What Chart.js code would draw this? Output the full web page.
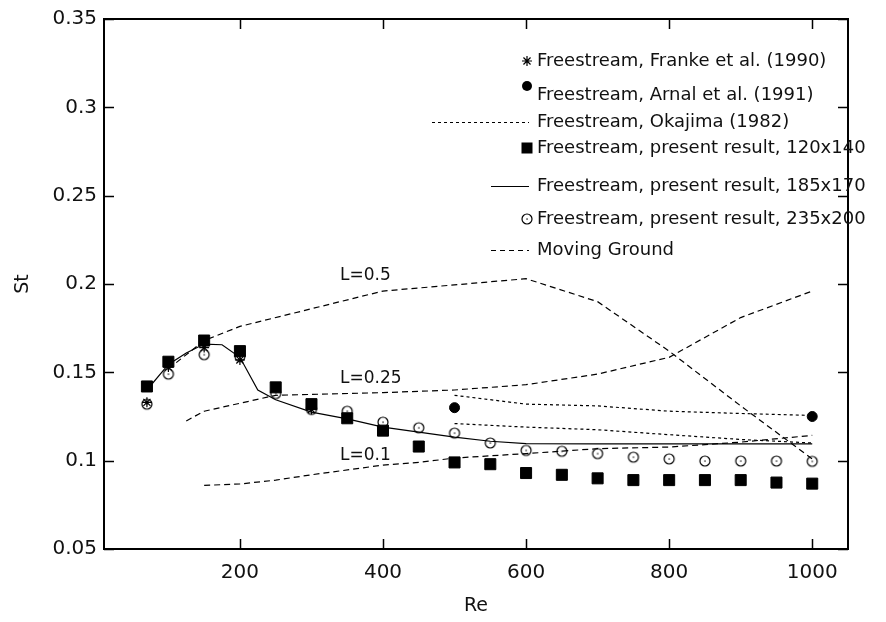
<!DOCTYPE html>
<html>
<head>
<meta charset="utf-8">
<script src="https://cdn.jsdelivr.net/npm/chart.js@4.4.0/dist/chart.umd.min.js"></script>
<style>
  html, body { margin: 0; padding: 0; background: #fff; }
  #wrap { width: 886px; height: 622px; }
</style>
</head>
<body>
<div id="wrap"><canvas id="c" width="886" height="622"></canvas></div>
<script>
// ---------------- data ----------------
const xTickValues = [200, 400, 600, 800, 1000];
const yTickValues = [0.05, 0.1, 0.15, 0.2, 0.25, 0.3, 0.35];
const yTickLabels = ['0.05', '0.1', '0.15', '0.2', '0.25', '0.3', '0.35'];

const reFranke = [70, 100, 150, 200, 300];
const stFranke = [0.133, 0.153, 0.164, 0.157, 0.129];

const reArnal = [500, 1000];
const stArnal = [0.130, 0.125];

const reOkajima = [500, 600, 700, 800, 900, 1000];
const stOkajimaUpper = [0.137, 0.132, 0.131, 0.128, 0.1267, 0.1256];
const stOkajimaLower = [0.121, 0.119, 0.1175, 0.1147, 0.112, 0.110];

const rePresent = [70, 100, 150, 200, 250, 300, 350, 400, 450, 500, 550, 600, 650, 700, 750, 800, 850, 900, 950, 1000];
const st120x140 = [0.142, 0.156, 0.168, 0.162, 0.1415, 0.132, 0.124, 0.117, 0.108, 0.099, 0.098, 0.093, 0.092, 0.090, 0.089, 0.089, 0.089, 0.089, 0.0876, 0.087];
const st235x200 = [0.132, 0.149, 0.160, 0.159, 0.138, 0.129, 0.128, 0.1218, 0.1186, 0.1156, 0.110, 0.1058, 0.1053, 0.104, 0.102, 0.101, 0.0998, 0.0998, 0.0998, 0.0996];

const re185x170 = [70, 100, 125, 150, 175, 200, 225, 250, 300, 350, 400, 450, 500, 550, 600, 700, 800, 900, 1000];
const st185x170 = [0.140, 0.1545, 0.161, 0.166, 0.1656, 0.1585, 0.140, 0.1345, 0.1275, 0.1237, 0.119, 0.1162, 0.1133, 0.111, 0.1096, 0.1095, 0.1095, 0.1095, 0.1095];

const reL05 = [100, 150, 200, 300, 400, 600, 700, 800, 900, 1000];
const stL05 = [0.152, 0.168, 0.176, 0.186, 0.196, 0.203, 0.190, 0.162, 0.131, 0.101];

const reL025 = [125, 150, 250, 300, 400, 500, 600, 700, 800, 900, 1000];
const stL025 = [0.1225, 0.128, 0.137, 0.1375, 0.1385, 0.140, 0.143, 0.149, 0.1585, 0.181, 0.196];

const reL01 = [150, 200, 250, 300, 400, 450, 500, 600, 700, 800, 900, 1000];
const stL01 = [0.086, 0.0868, 0.089, 0.092, 0.0975, 0.099, 0.1015, 0.104, 0.1068, 0.1077, 0.1105, 0.1143];

const legendLabels = [
  'Freestream, Franke et al. (1990)',
  'Freestream, Arnal et al. (1991)',
  'Freestream, Okajima (1982)',
  'Freestream, present result, 120x140',
  'Freestream, present result, 185x170',
  'Freestream, present result, 235x200',
  'Moving Ground'
];

const curveLabels = ['L=0.5', 'L=0.25', 'L=0.1'];
const curveLabelRe = [340, 340, 340];
const curveLabelSt = [0.2048, 0.1467, 0.1030];

const xTitle = 'Re';
const yTitle = 'St';

// ---------------- helpers ----------------
function pts(xs, ys) { return xs.map((x, i) => ({ x: x, y: ys[i] })); }

const FONT = '"DejaVu Sans", "Liberation Sans", sans-serif';

// circle with a dot marker
const dotCircle = document.createElement('canvas');
dotCircle.width = 14; dotCircle.height = 14;
(function () {
  const g = dotCircle.getContext('2d');
  g.strokeStyle = '#000'; g.lineWidth = 1.2;
  g.beginPath(); g.arc(7, 7, 5, 0, Math.PI * 2); g.stroke();
  g.fillStyle = '#000'; g.fillRect(6.4, 6.4, 1.3, 1.3);
})();

const lineBase = { showLine: true, pointRadius: 0, borderColor: '#000', borderWidth: 1.2, tension: 0, fill: false };
const pointBase = { showLine: false, borderColor: '#000', backgroundColor: '#000', borderWidth: 1 };

const datasets = [
  Object.assign({}, pointBase, { label: legendLabels[0], data: pts(reFranke, stFranke), pointStyle: 'star', pointRadius: 5, borderWidth: 1.2, backgroundColor: 'rgba(0,0,0,0)' }),
  Object.assign({}, pointBase, { label: legendLabels[1], data: pts(reArnal, stArnal), pointStyle: 'circle', pointRadius: 5 }),
  Object.assign({}, lineBase, { label: legendLabels[2], data: pts(reOkajima, stOkajimaUpper), borderDash: [3, 3] }),
  Object.assign({}, lineBase, { label: '', data: pts(reOkajima, stOkajimaLower), borderDash: [3, 3] }),
  Object.assign({}, pointBase, { label: legendLabels[3], data: pts(rePresent, st120x140), pointStyle: 'rect', pointRadius: 7.8 }),
  Object.assign({}, lineBase, { label: legendLabels[4], data: pts(re185x170, st185x170) }),
  Object.assign({}, pointBase, { label: legendLabels[5], data: pts(rePresent, st235x200), pointStyle: dotCircle, pointRadius: 5 }),
  Object.assign({}, lineBase, { label: legendLabels[6], data: pts(reL05, stL05), borderDash: [6, 4] }),
  Object.assign({}, lineBase, { label: '', data: pts(reL025, stL025), borderDash: [6, 4] }),
  Object.assign({}, lineBase, { label: '', data: pts(reL01, stL01), borderDash: [6, 4] })
];

// legend layout (style only)
const legendItems = [
  { ds: 0, kind: 'star', y: 61, my: 61 },
  { ds: 1, kind: 'dot', y: 95, my: 86 },
  { ds: 2, kind: 'line', y: 122, dash: [3, 3], x0: 432 },
  { ds: 4, kind: 'rect', y: 148, my: 148 },
  { ds: 5, kind: 'line', y: 186, dash: [], x0: 491 },
  { ds: 6, kind: 'img', y: 219, my: 219 },
  { ds: 7, kind: 'line', y: 250, dash: [5, 4], x0: 491 }
];

const framePlugin = {
  id: 'frame',
  afterDraw(chart) {
    const ctx = chart.ctx;
    const a = chart.chartArea;
    const xs = chart.scales.x, ys = chart.scales.y;
    ctx.save();
    // frame
    ctx.strokeStyle = '#000';
    ctx.lineWidth = 2;
    ctx.setLineDash([]);
    ctx.strokeRect(a.left, a.top, a.right - a.left, a.bottom - a.top);
    // inward ticks
    ctx.lineWidth = 1.5;
    const TL = 10;
    ctx.beginPath();
    xTickValues.forEach(v => {
      const px = Math.round(xs.getPixelForValue(v)) + 0.5;
      ctx.moveTo(px, a.bottom); ctx.lineTo(px, a.bottom - TL);
      ctx.moveTo(px, a.top); ctx.lineTo(px, a.top + TL);
    });
    yTickValues.forEach(v => {
      const py = Math.round(ys.getPixelForValue(v)) + 0.5;
      ctx.moveTo(a.left, py); ctx.lineTo(a.left + TL, py);
      ctx.moveTo(a.right, py); ctx.lineTo(a.right - TL, py);
    });
    ctx.stroke();

    // curve labels
    ctx.fillStyle = '#111';
    ctx.font = '17px ' + FONT;
    ctx.textAlign = 'left';
    ctx.textBaseline = 'middle';
    curveLabels.forEach((t, i) => {
      ctx.fillText(t, xs.getPixelForValue(curveLabelRe[i]), ys.getPixelForValue(curveLabelSt[i]));
    });

    // legend
    const mx = 527, tx = 537;
    ctx.font = '18px ' + FONT;
    legendItems.forEach(it => {
      const ds = chart.data.datasets[it.ds];
      ctx.strokeStyle = '#000'; ctx.fillStyle = '#000'; ctx.lineWidth = 1.2;
      if (it.kind === 'line') {
        ctx.setLineDash(it.dash);
        ctx.beginPath();
        ctx.moveTo(it.x0, it.y + 0.5); ctx.lineTo(529, it.y + 0.5);
        ctx.stroke();
        ctx.setLineDash([]);
      } else if (it.kind === 'star') {
        const r = 5;
        ctx.beginPath();
        for (let k = 0; k < 4; k++) {
          const ang = k * Math.PI / 4;
          ctx.moveTo(mx - r * Math.cos(ang), it.my - r * Math.sin(ang));
          ctx.lineTo(mx + r * Math.cos(ang), it.my + r * Math.sin(ang));
        }
        ctx.stroke();
      } else if (it.kind === 'dot') {
        ctx.beginPath(); ctx.arc(mx, it.my, 5, 0, Math.PI * 2); ctx.fill();
      } else if (it.kind === 'rect') {
        ctx.fillRect(mx - 5.5, it.my - 5.5, 11, 11);
      } else if (it.kind === 'img') {
        ctx.drawImage(dotCircle, mx - 7, it.my - 7);
      }
      ctx.fillStyle = '#111';
      ctx.fillText(ds.label, tx, it.y);
    });
    ctx.restore();
  }
};

new Chart(document.getElementById('c'), {
  type: 'scatter',
  data: { datasets: datasets },
  plugins: [framePlugin],
  options: {
    responsive: false,
    animation: false,
    devicePixelRatio: 1,
    layout: { padding: { top: 17, right: 38, left: 0, bottom: 0 } },
    plugins: { legend: { display: false }, tooltip: { enabled: false } },
    scales: {
      x: {
        type: 'linear',
        min: 10, max: 1050,
        grid: { display: false, drawTicks: false },
        border: { display: false },
        afterBuildTicks(scale) { scale.ticks = xTickValues.map(v => ({ value: v })); },
        afterFit(scale) { scale.height = 73; },
        ticks: {
          color: '#111', padding: 12,
          font: { family: FONT, size: 20 },
          callback: v => String(v)
        },
        title: { display: true, text: xTitle, color: '#111', font: { family: FONT, size: 19 }, padding: { top: 4, bottom: 5 } }
      },
      y: {
        type: 'linear',
        min: 0.05, max: 0.35,
        grid: { display: false, drawTicks: false },
        border: { display: false },
        afterBuildTicks(scale) { scale.ticks = yTickValues.map(v => ({ value: v })); },
        afterFit(scale) { scale.width = 104; },
        ticks: {
          color: '#111', padding: 7,
          font: { family: FONT, size: 20 },
          callback: function (v) { const i = yTickValues.indexOf(v); return i >= 0 ? yTickLabels[i] : ''; }
        },
        title: { display: true, text: yTitle, color: '#111', font: { family: FONT, size: 19 }, padding: { top: 12, bottom: 4 } }
      }
    }
  }
});
</script>
</body>
</html>
